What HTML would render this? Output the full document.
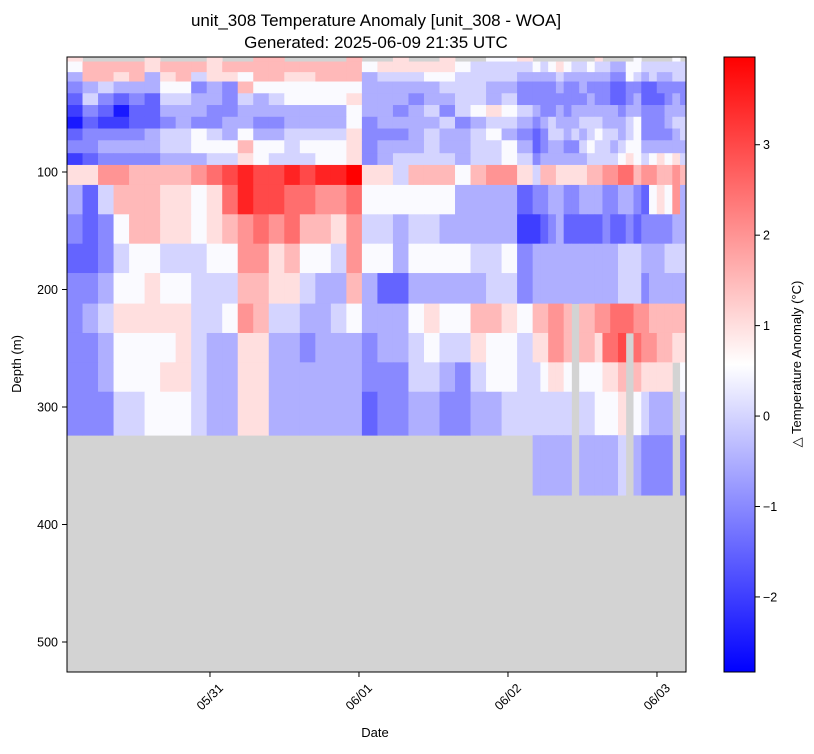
<!DOCTYPE html>
<html><head><meta charset="utf-8"><style>
body{margin:0;background:#fff;font-family:"Liberation Sans","DejaVu Sans",sans-serif;}
svg text{font-family:"Liberation Sans","DejaVu Sans",sans-serif;fill:#000;}
</style></head><body>
<svg id="chart" width="814" height="749" viewBox="0 0 814 749" xmlns="http://www.w3.org/2000/svg">
<defs>
<clipPath id="plotclip"><rect x="67" y="57" width="619" height="615"/></clipPath>
<linearGradient id="bwr" x1="0" y1="1" x2="0" y2="0">
<stop offset="0" stop-color="#0000ff"/><stop offset="0.5" stop-color="#ffffff"/><stop offset="1" stop-color="#ff0000"/>
</linearGradient>
</defs>
<text x="376" y="26" font-size="17" text-anchor="middle">unit_308 Temperature Anomaly [unit_308 - WOA]</text>
<text x="376" y="48" font-size="17" text-anchor="middle">Generated: 2025-06-09 21:35 UTC</text>
<rect x="67" y="57" width="619" height="615" fill="#d3d3d3"/>
<g id="cells" clip-path="url(#plotclip)"></g>
<rect x="67" y="57" width="619" height="615" fill="none" stroke="#000" stroke-width="1"/>
<g id="axes"></g>
<text x="375" y="737" font-size="13" text-anchor="middle">Date</text>
<text x="21" y="364" font-size="13" text-anchor="middle" transform="rotate(-90 21 364)">Depth (m)</text>
<rect x="724" y="57" width="31" height="615" fill="url(#bwr)" stroke="#000" stroke-width="1"/>
<g id="cbaxis"></g>
<text x="801" y="364" font-size="13" text-anchor="middle" transform="rotate(-90 801 364)">△ Temperature Anomaly (°C)</text>
</svg>
<script>
const depthEdges=[2,6,15,23,33,43,53,63,73,84,94,111,136,161,186,212,237,262,287,324,375];
const timeEdges=[0,2.5,5,7.5,10,12.5,15,17.5,20,22.5,25,27.5,30,32.5,35,37.5,40,42.5,45,47.5,50,52.5,55,57.5,60,62.5,65,67.5,70,72.5,75,76.25,77.5,78.75,80,81.25,82.5,83.75,85,86.25,87.5,88.75,90,91.25,92.5,93.75,95,96.25,97.5,98.75,100];
const levelChars="ABCDEFGHIJKLMN";
const levelValues=[-2.5,-2,-1.5,-1,-0.5,0,0.5,1,1.5,2,2.5,3,3.5,4];
const rowCodes=[
"H....H...H"+"..II....I."+".H..H..GGH"+"........H....G....G.",
"GIIIIHIIIH"+"IIIIIIIIIG"+"HHHHHGFFFF"+"GFGHGFFGFFEEGGFFFFFF",
"EIIHIEHIFH"+"HGIIHHIIIE"+"FFFGGFFFFE"+"EEEFEEEEEEDDGFEFEEFF",
"DEFEEEGGDE"+"DIGGGGGGGE"+"EEEEFFFEED"+"DDDEDDEDDDCCDDCCDDDD",
"CFDCDCFFEE"+"DFEFGGGGHE"+"EEDEEFFEFD"+"DDDDDDDEDDCCDECCCDED",
"BDCACCEEED"+"DEEEEEEEGE"+"EDEFDFGHGF"+"EDDEDEEEEEEDEEDDDEEE",
"ACBBCCDEDD"+"EEDDEEEEGD"+"EEEEFDEFFE"+"DEFEEEFFFEEEFGDDDEFF",
"CDDDDEFFGF"+"EGEEFFFFHD"+"DDEFEEFGED"+"CDFFEFEFGFFEFGDDDDEF",
"DDEEEEFFGG"+"GIGGFGGGHD"+"EEEFEEFFGE"+"CDEEDDFGFFEFGGEEEEEE",
"BCDDDDEEEF"+"FHGFFFGGHD"+"EFFFFEFFGF"+"DEEEEEEFFFFGHGFGHGHF",
"HHJJIIIIJK"+"LMLLMLMMNH"+"HFIIIGIJJH"+"FIIHHHHIIJJKKIJJIIJI",
"ECFIIIHHGH"+"KMLLKKJJKG"+"GGGGGEEEEC"+"DDEEDDEEEDDEEDCGHGJE",
"DCDGIIHHGH"+"IJKJKIIHJF"+"FEFFEEEEEB"+"BCDECCCCCDCCDCDDDDEE",
"CCDFGGFFFG"+"GJJHIGGFJG"+"GEGGGGFFGD"+"EEEEEEEEEEEFFFEEEFFF",
"DDEGGHGGFF"+"FIIHHFEEIE"+"CCEEEEEFFD"+"EEEEEEEEEEEFFFDEEEEE",
"DEFHHHHHFF"+"GJIFFEEFGE"+"EEGHGGIIHG"+"IIJJI.IIJJKKKJJIIIII",
"DDEGGGGHFE"+"EHHEEDEEED"+"EEFGFFHGGF"+"HHJJI.IIHKKL.KJJIIHH",
"DDEGGGHHFE"+"EHHEEEEEED"+"DDFFEDFGGF"+"FGHHG.GGGHHI.IHHHH.G",
"DDDFFGGGFE"+"EHHEEEEEEC"+"DDEEDDEEFF"+"FFFFF.FFGGGH.GFEEE.F",
".........."+".........."+".........."+"EEEEE.EEEEEF.EDDDD.D"
];
const depthTicks=[100,200,300,400,500];
const dateTickHours=[23.03,47.03,71.03,95.03];
const dateTickLabels=["05/31","06/01","06/02","06/03"];
const cbTicks=[-2,-1,0,1,2,3];
const vmin=-2.83, vmax=3.97;

const NS="http://www.w3.org/2000/svg";
function xs(h){return 67+h*149/24;}
function ys(d){return 54.5+d*1.175;}
function cbY(v){return 672-(v-vmin)/(vmax-vmin)*615;}
function bwr(v){
  let t=(v-vmin)/(vmax-vmin); t=Math.max(0,Math.min(1,t));
  let r,g,b;
  if(t<0.5){r=g=2*t;b=1;}else{r=1;g=b=2*(1-t);}
  return "rgb("+Math.round(r*255)+","+Math.round(g*255)+","+Math.round(b*255)+")";
}
const cells=document.getElementById("cells");
for(let r=0;r<rowCodes.length;r++){
  const row=rowCodes[r];
  for(let c=0;c<row.length;c++){
    const ch=row[c]; const k=levelChars.indexOf(ch);
    if(k<0) continue;
    const v=levelValues[k];
    const x0=xs(timeEdges[c]), x1=xs(timeEdges[c+1]);
    const y0=ys(depthEdges[r]), y1=ys(depthEdges[r+1]);
    const el=document.createElementNS(NS,"rect");
    
    
    el.setAttribute("x",x0.toFixed(2));el.setAttribute("y",y0.toFixed(2));
    el.setAttribute("width",(x1-x0+0.4).toFixed(2));el.setAttribute("height",(y1-y0+0.4).toFixed(2));
    el.setAttribute("fill",bwr(v));
    cells.appendChild(el);
  }
}
const axes=document.getElementById("axes");
function line(g,x1,y1,x2,y2){const l=document.createElementNS(NS,"line");l.setAttribute("x1",x1);l.setAttribute("y1",y1);l.setAttribute("x2",x2);l.setAttribute("y2",y2);l.setAttribute("stroke","#000");l.setAttribute("stroke-width","1");g.appendChild(l);return l;}
depthTicks.forEach(d=>{
  const y=ys(d);
  const t=line(axes,67,y,62,y);
  
  
  const tx=document.createElementNS(NS,"text");
  
  
  tx.setAttribute("x",58);tx.setAttribute("y",y+4.5);tx.setAttribute("font-size","12.5");tx.setAttribute("text-anchor","end");
  tx.textContent=d;axes.appendChild(tx);
});
dateTickHours.forEach((h,i)=>{
  const x=xs(h);
  const t=line(axes,x,672,x,677);
  
  
  const tx=document.createElementNS(NS,"text");
  
  
  tx.setAttribute("x",x);tx.setAttribute("y",701);tx.setAttribute("font-size","12.5");tx.setAttribute("text-anchor","middle");
  tx.setAttribute("transform","rotate(-45 "+x+" 697)");
  tx.textContent=dateTickLabels[i];axes.appendChild(tx);
});
const cb=document.getElementById("cbaxis");
cbTicks.forEach(v=>{
  const y=cbY(v);
  const t=line(cb,755,y,760,y);
  
  
  const tx=document.createElementNS(NS,"text");
  
  
  tx.setAttribute("x",763);tx.setAttribute("y",y+4.5);tx.setAttribute("font-size","12.5");
  tx.textContent=(v<0?"\u2212"+(-v):String(v));cb.appendChild(tx);
});
</script>
</body></html>
